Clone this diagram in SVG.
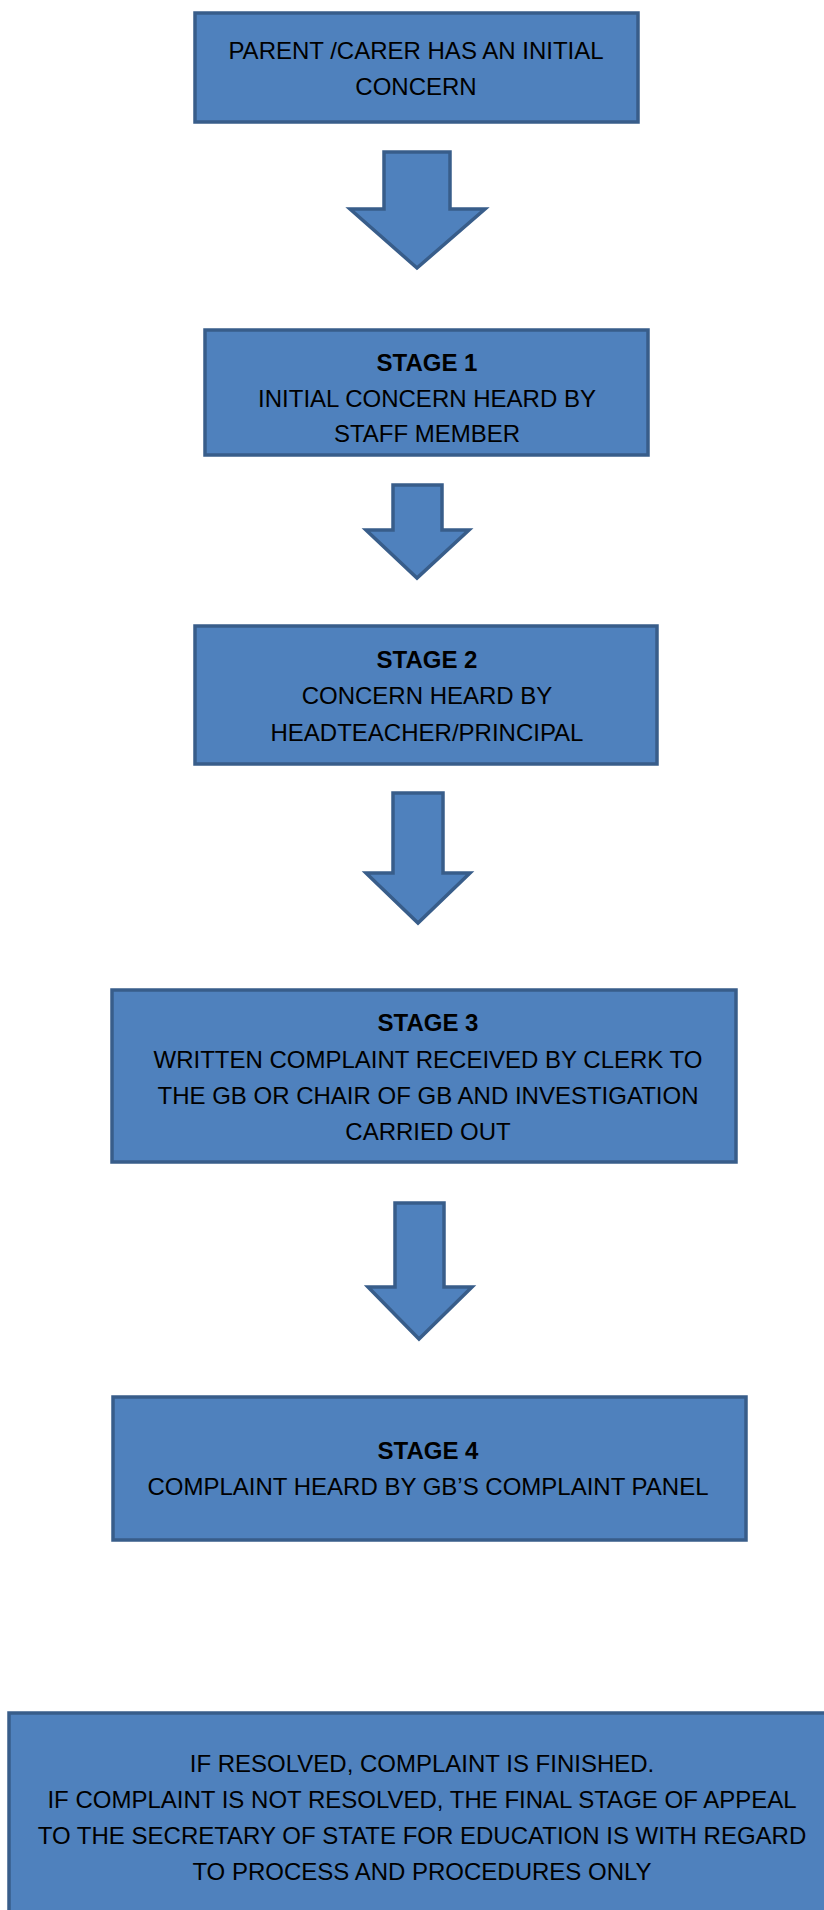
<svg xmlns="http://www.w3.org/2000/svg" width="824" height="1910" viewBox="0 0 824 1910">
<style>
.box{fill:#4F81BD;stroke:#385D8A;stroke-width:3.5}
.arr{fill:#4F81BD;stroke:#385D8A;stroke-width:3.5;stroke-linejoin:miter}
text{font-family:"Liberation Sans",Arial,sans-serif;font-size:24px;fill:#000;text-anchor:middle}
.b{font-weight:bold}
</style>
<rect width="824" height="1910" fill="#fff"/>
<g id="connectors">
<path class="arr" d="M384,152 H450 V209 H485 L417,268 L350,209 H384 Z"/>
<path class="arr" d="M393,485 H442 V530 H469 L417,578 L366,530 H393 Z"/>
<path class="arr" d="M393,793 H443 V873 H470 L418,923 L366,873 H393 Z"/>
<path class="arr" d="M395,1203 H444 V1287 H472 L419,1339 L368,1287 H395 Z"/>
</g>
<g id="n0">
<rect class="box" x="195" y="13" width="443" height="109"/>
<text x="416" y="59">PARENT /CARER HAS AN INITIAL</text>
<text x="416" y="95">CONCERN</text>
</g>
<g id="n1">
<rect class="box" x="205" y="330" width="443" height="125"/>
<text class="b" x="427" y="371">STAGE 1</text>
<text x="427" y="407">INITIAL CONCERN HEARD BY</text>
<text x="427" y="442">STAFF MEMBER</text>
</g>
<g id="n2">
<rect class="box" x="195" y="626" width="462" height="138"/>
<text class="b" x="427" y="668">STAGE 2</text>
<text x="427" y="704">CONCERN HEARD BY</text>
<text x="427" y="741">HEADTEACHER/PRINCIPAL</text>
</g>
<g id="n3">
<rect class="box" x="112" y="990" width="624" height="172"/>
<text class="b" x="428" y="1031">STAGE 3</text>
<text x="428" y="1068">WRITTEN COMPLAINT RECEIVED BY CLERK TO</text>
<text x="428" y="1104">THE GB OR CHAIR OF GB AND INVESTIGATION</text>
<text x="428" y="1140">CARRIED OUT</text>
</g>
<g id="n4">
<rect class="box" x="113" y="1397" width="633" height="143"/>
<text class="b" x="428" y="1459">STAGE 4</text>
<text x="428" y="1495">COMPLAINT HEARD BY GB’S COMPLAINT PANEL</text>
</g>
<g id="n5">
<rect class="box" x="9" y="1713" width="830" height="210"/>
<text x="422" y="1772">IF RESOLVED, COMPLAINT IS FINISHED.</text>
<text x="422" y="1808">IF COMPLAINT IS NOT RESOLVED, THE FINAL STAGE OF APPEAL</text>
<text x="422" y="1844">TO THE SECRETARY OF STATE FOR EDUCATION IS WITH REGARD</text>
<text x="422" y="1880">TO PROCESS AND PROCEDURES ONLY</text>
</g>
</svg>
